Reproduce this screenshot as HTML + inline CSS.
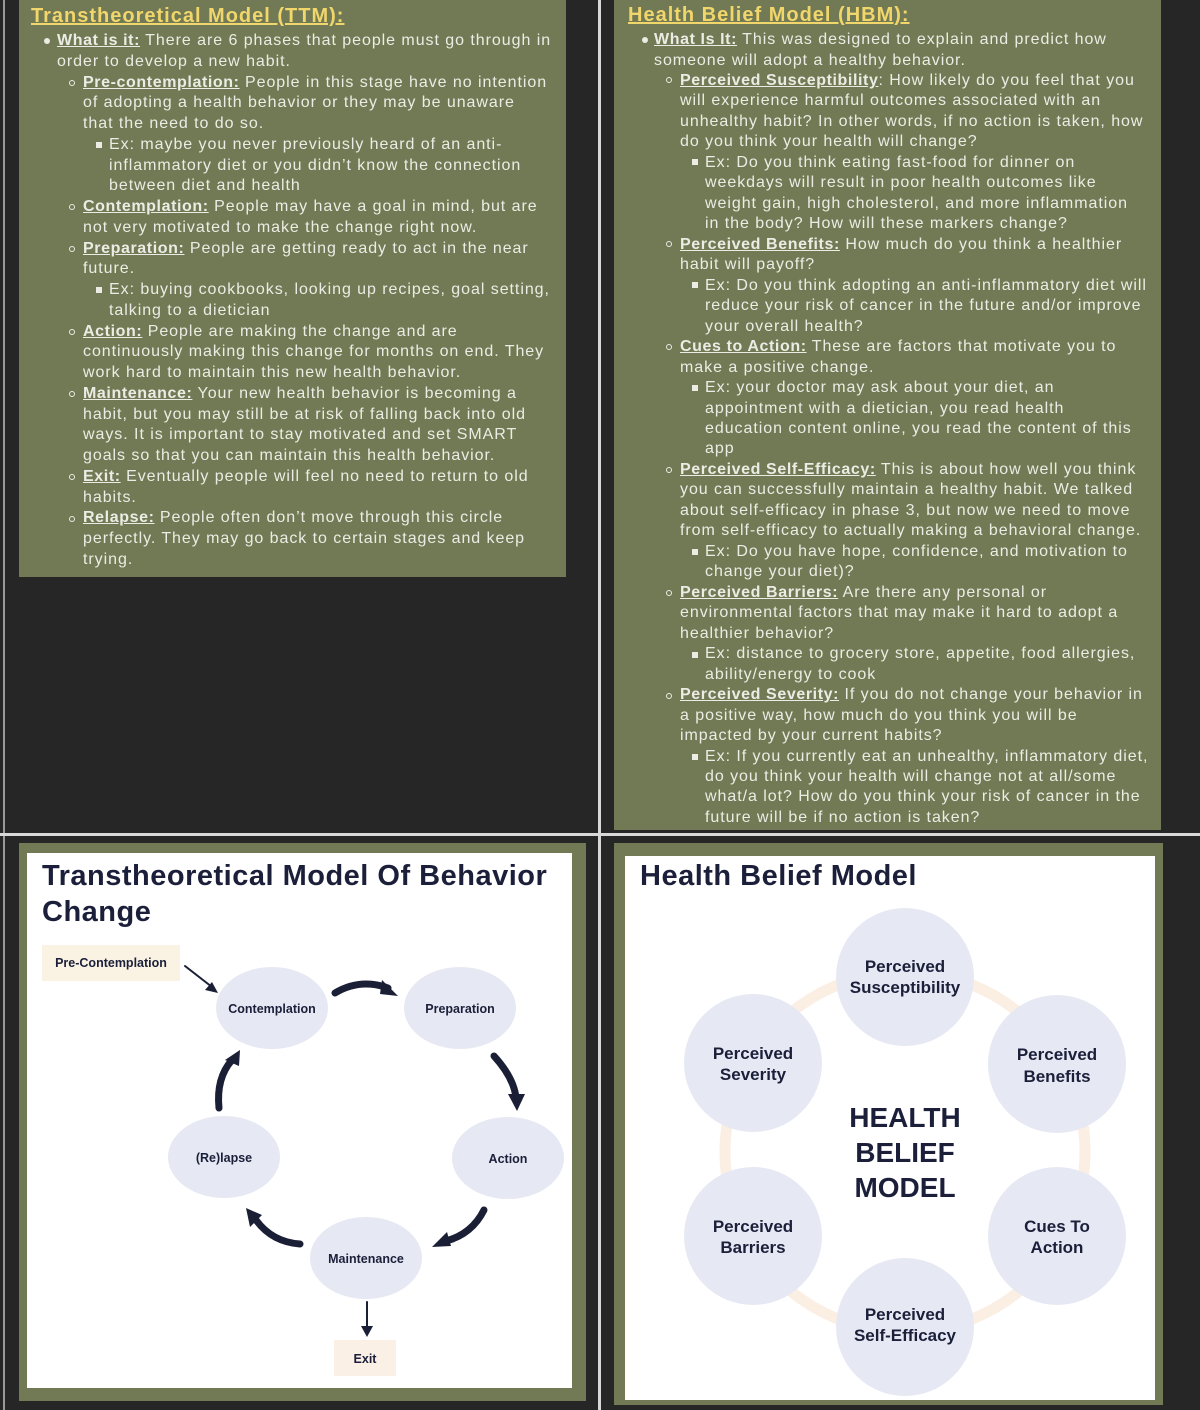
<!DOCTYPE html>
<html><head><meta charset="utf-8">
<style>
*{margin:0;padding:0;box-sizing:border-box}
body{width:1200px;height:1410px;background:#262626;position:relative;overflow:hidden;font-family:"Liberation Sans",sans-serif}
.abs{position:absolute}
.g{position:absolute;background:#717a55}
.l{position:absolute;white-space:nowrap;font-size:16px;line-height:22px;letter-spacing:.95px;color:#ecece4}
.l b{text-decoration:underline;font-weight:bold;letter-spacing:.6px}
.m1,.m2,.m3{position:absolute}
.m1{width:6px;height:6px;border-radius:50%;background:#ecece4}
.m2{width:6px;height:6px;border-radius:50%;border:1px solid #ecece4}
.m3{width:6px;height:6px;background:#ecece4}
.t{position:absolute;white-space:nowrap;font-size:20px;font-weight:bold;color:#f1d66b;text-decoration:underline;letter-spacing:1px}
.dk{color:#1b1f3a;font-weight:bold}
</style></head><body>
<!-- grid lines -->
<div class="abs" style="left:3px;top:0;width:2px;height:1410px;background:#9a9a9a"></div>
<div class="abs" style="left:598px;top:0;width:3px;height:1410px;background:#d8d8d8"></div>
<div class="abs" style="left:0;top:833px;width:1200px;height:3px;background:#d8d8d8"></div>

<!-- TTM text box -->
<div class="g" style="left:19px;top:0;width:547px;height:577px"></div>
<div class="t" style="left:31px;top:5px">Transtheoretical Model (TTM):</div>
<div class="m1" style="left:44px;top:38px"></div>
<div class="l" style="left:57px;top:30px"><b>What is it:</b> There are 6 phases that people must go through in</div>
<div class="l" style="left:57px;top:50.75px">order to develop a new habit.</div>
<div class="m2" style="left:69px;top:80px"></div>
<div class="l" style="left:83px;top:71.5px"><b>Pre-contemplation:</b> People in this stage have no intention</div>
<div class="l" style="left:83px;top:92.25px">of adopting a health behavior or they may be unaware</div>
<div class="l" style="left:83px;top:113px">that the need to do so.</div>
<div class="m3" style="left:96px;top:142px"></div>
<div class="l" style="left:109px;top:133.75px">Ex: maybe you never previously heard of an anti-</div>
<div class="l" style="left:109px;top:154.5px">inflammatory diet or you didn’t know the connection</div>
<div class="l" style="left:109px;top:175.25px">between diet and health</div>
<div class="m2" style="left:69px;top:204px"></div>
<div class="l" style="left:83px;top:196px"><b>Contemplation:</b> People may have a goal in mind, but are</div>
<div class="l" style="left:83px;top:216.75px">not very motivated to make the change right now.</div>
<div class="m2" style="left:69px;top:246px"></div>
<div class="l" style="left:83px;top:237.5px"><b>Preparation:</b> People are getting ready to act in the near</div>
<div class="l" style="left:83px;top:258.25px">future.</div>
<div class="m3" style="left:96px;top:287px"></div>
<div class="l" style="left:109px;top:279px">Ex: buying cookbooks, looking up recipes, goal setting,</div>
<div class="l" style="left:109px;top:299.75px">talking to a dietician</div>
<div class="m2" style="left:69px;top:329px"></div>
<div class="l" style="left:83px;top:320.5px"><b>Action:</b> People are making the change and are</div>
<div class="l" style="left:83px;top:341.25px">continuously making this change for months on end. They</div>
<div class="l" style="left:83px;top:362px">work hard to maintain this new health behavior.</div>
<div class="m2" style="left:69px;top:391px"></div>
<div class="l" style="left:83px;top:382.75px"><b>Maintenance:</b> Your new health behavior is becoming a</div>
<div class="l" style="left:83px;top:403.5px">habit, but you may still be at risk of falling back into old</div>
<div class="l" style="left:83px;top:424.25px">ways. It is important to stay motivated and set SMART</div>
<div class="l" style="left:83px;top:445px">goals so that you can maintain this health behavior.</div>
<div class="m2" style="left:69px;top:474px"></div>
<div class="l" style="left:83px;top:465.75px"><b>Exit:</b> Eventually people will feel no need to return to old</div>
<div class="l" style="left:83px;top:486.5px">habits.</div>
<div class="m2" style="left:69px;top:516px"></div>
<div class="l" style="left:83px;top:507.25px"><b>Relapse:</b> People often don’t move through this circle</div>
<div class="l" style="left:83px;top:528px">perfectly. They may go back to certain stages and keep</div>
<div class="l" style="left:83px;top:548.75px">trying.</div>

<!-- HBM text box -->
<div class="g" style="left:614px;top:0;width:547px;height:830px"></div>
<div class="t" style="left:628px;top:4px">Health Belief Model (HBM):</div>
<div class="m1" style="left:642px;top:37px"></div>
<div class="l" style="left:654px;top:29px"><b>What Is It:</b> This was designed to explain and predict how</div>
<div class="l" style="left:654px;top:49.5px">someone will adopt a healthy behavior.</div>
<div class="m2" style="left:666px;top:77px"></div>
<div class="l" style="left:680px;top:69.9px"><b>Perceived Susceptibility</b>: How likely do you feel that you</div>
<div class="l" style="left:680px;top:90.4px">will experience harmful outcomes associated with an</div>
<div class="l" style="left:680px;top:110.9px">unhealthy habit? In other words, if no action is taken, how</div>
<div class="l" style="left:680px;top:131.4px">do you think your health will change?</div>
<div class="m3" style="left:692px;top:159px"></div>
<div class="l" style="left:705px;top:151.8px">Ex: Do you think eating fast-food for dinner on</div>
<div class="l" style="left:705px;top:172.3px">weekdays will result in poor health outcomes like</div>
<div class="l" style="left:705px;top:192.8px">weight gain, high cholesterol, and more inflammation</div>
<div class="l" style="left:705px;top:213.2px">in the body? How will these markers change?</div>
<div class="m2" style="left:666px;top:241px"></div>
<div class="l" style="left:680px;top:233.7px"><b>Perceived Benefits:</b> How much do you think a healthier</div>
<div class="l" style="left:680px;top:254.2px">habit will payoff?</div>
<div class="m3" style="left:692px;top:282px"></div>
<div class="l" style="left:705px;top:274.6px">Ex: Do you think adopting an anti-inflammatory diet will</div>
<div class="l" style="left:705px;top:295.1px">reduce your risk of cancer in the future and/or improve</div>
<div class="l" style="left:705px;top:315.6px">your overall health?</div>
<div class="m2" style="left:666px;top:344px"></div>
<div class="l" style="left:680px;top:336.1px"><b>Cues to Action:</b> These are factors that motivate you to</div>
<div class="l" style="left:680px;top:356.5px">make a positive change.</div>
<div class="m3" style="left:692px;top:385px"></div>
<div class="l" style="left:705px;top:377px">Ex: your doctor may ask about your diet, an</div>
<div class="l" style="left:705px;top:397.5px">appointment with a dietician, you read health</div>
<div class="l" style="left:705px;top:417.9px">education content online, you read the content of this</div>
<div class="l" style="left:705px;top:438.4px">app</div>
<div class="m2" style="left:666px;top:467px"></div>
<div class="l" style="left:680px;top:458.9px"><b>Perceived Self-Efficacy:</b> This is about how well you think</div>
<div class="l" style="left:680px;top:479.3px">you can successfully maintain a healthy habit. We talked</div>
<div class="l" style="left:680px;top:499.8px">about self-efficacy in phase 3, but now we need to move</div>
<div class="l" style="left:680px;top:520.3px">from self-efficacy to actually making a behavioral change.</div>
<div class="m3" style="left:692px;top:549px"></div>
<div class="l" style="left:705px;top:540.8px">Ex: Do you have hope, confidence, and motivation to</div>
<div class="l" style="left:705px;top:561.2px">change your diet)?</div>
<div class="m2" style="left:666px;top:590px"></div>
<div class="l" style="left:680px;top:581.7px"><b>Perceived Barriers:</b> Are there any personal or</div>
<div class="l" style="left:680px;top:602.2px">environmental factors that may make it hard to adopt a</div>
<div class="l" style="left:680px;top:622.6px">healthier behavior?</div>
<div class="m3" style="left:692px;top:652px"></div>
<div class="l" style="left:705px;top:643.1px">Ex: distance to grocery store, appetite, food allergies,</div>
<div class="l" style="left:705px;top:663.6px">ability/energy to cook</div>
<div class="m2" style="left:666px;top:693px"></div>
<div class="l" style="left:680px;top:684px"><b>Perceived Severity:</b> If you do not change your behavior in</div>
<div class="l" style="left:680px;top:704.5px">a positive way, how much do you think you will be</div>
<div class="l" style="left:680px;top:725px">impacted by your current habits?</div>
<div class="m3" style="left:692px;top:754px"></div>
<div class="l" style="left:705px;top:745.5px">Ex: If you currently eat an unhealthy, inflammatory diet,</div>
<div class="l" style="left:705px;top:765.9px">do you think your health will change not at all/some</div>
<div class="l" style="left:705px;top:786.4px">what/a lot? How do you think your risk of cancer in the</div>
<div class="l" style="left:705px;top:806.9px">future will be if no action is taken?</div>

<!-- Bottom-left TTM diagram -->
<div class="g" style="left:19px;top:843px;width:567px;height:558px"></div>
<div class="abs" style="left:27px;top:853px;width:545px;height:535px;background:#fff"></div>
<div class="abs dk" style="left:42px;top:858px;font-size:29px;line-height:36px;letter-spacing:.5px">Transtheoretical Model Of Behavior<br>Change</div>
<svg class="abs" style="left:0;top:0" width="600" height="1410" viewBox="0 0 600 1410">
<rect x="42" y="945" width="138" height="36" fill="#faf3e3"/>
<rect x="334" y="1340" width="62" height="36" fill="#fbf0e6"/>
<g fill="#e6e9f3">
<ellipse cx="272" cy="1008" rx="56" ry="41"/>
<ellipse cx="460" cy="1008" rx="56" ry="41"/>
<ellipse cx="508" cy="1158" rx="56" ry="41"/>
<ellipse cx="224" cy="1157" rx="56" ry="41"/>
<ellipse cx="366" cy="1258" rx="56" ry="41"/>
</g>
<g font-family="Liberation Sans,sans-serif" font-weight="bold" font-size="12.5" fill="#1b1f3a" text-anchor="middle">
<text x="111" y="967">Pre-Contemplation</text>
<text x="272" y="1013">Contemplation</text>
<text x="460" y="1013">Preparation</text>
<text x="508" y="1163">Action</text>
<text x="224" y="1162">(Re)lapse</text>
<text x="366" y="1263">Maintenance</text>
<text x="365" y="1363">Exit</text>
</g>
<g stroke="#1a1f36" fill="none" stroke-linecap="round">
<line x1="185" y1="966" x2="212" y2="987" stroke-width="2"/>
<line x1="367" y1="1302" x2="367" y2="1328" stroke-width="2"/>
<g stroke-width="7">
<path d="M335 993 Q360 978 388 988"/>
<path d="M494 1056 Q514 1078 516 1098"/>
<path d="M484 1210 Q472 1234 446 1241"/>
<path d="M300 1244 Q272 1242 256 1220"/>
<path d="M219 1108 Q216 1078 232 1060"/>
</g>
</g>
<g fill="#1a1f36">
<polygon points="218,993 205,990 212,982"/>
<polygon points="361,1326 373,1326 367,1337"/>
<polygon points="398,996 382,980 380,994"/>
<polygon points="517,1111 508,1094 525,1094"/>
<polygon points="432,1247 447,1232 451,1246"/>
<polygon points="246,1208 262,1215 250,1227"/>
<polygon points="240,1050 225,1060 239,1066"/>
</g>
</svg>

<!-- Bottom-right HBM diagram -->
<div class="g" style="left:614px;top:843px;width:549px;height:562px"></div>
<div class="abs" style="left:625px;top:856px;width:530px;height:544px;background:#fff"></div>
<div class="abs dk" style="left:640px;top:858px;font-size:29px;line-height:36px;letter-spacing:.5px">Health Belief Model</div>
<svg class="abs" style="left:600px;top:830px" width="600" height="580" viewBox="600 830 600 580">
<circle cx="905" cy="1152" r="180" fill="none" stroke="#fbeee3" stroke-width="11"/>
<g fill="#e6e9f3">
<circle cx="905" cy="977" r="69"/>
<circle cx="753" cy="1063" r="69"/>
<circle cx="1057" cy="1064" r="69"/>
<circle cx="753" cy="1236" r="69"/>
<circle cx="1057" cy="1236" r="69"/>
<circle cx="905" cy="1327" r="69"/>
</g>
<g font-family="Liberation Sans,sans-serif" font-weight="bold" font-size="17" fill="#1b1f3a" text-anchor="middle">
<text x="905" y="972">Perceived</text><text x="905" y="993">Susceptibility</text>
<text x="753" y="1059">Perceived</text><text x="753" y="1080">Severity</text>
<text x="1057" y="1060">Perceived</text><text x="1057" y="1082">Benefits</text>
<text x="753" y="1232">Perceived</text><text x="753" y="1253">Barriers</text>
<text x="1057" y="1232">Cues To</text><text x="1057" y="1253">Action</text>
<text x="905" y="1320">Perceived</text><text x="905" y="1341">Self-Efficacy</text>
<g font-size="28"><text x="905" y="1127">HEALTH</text><text x="905" y="1162">BELIEF</text><text x="905" y="1197">MODEL</text></g>
</g>
</svg>
</body></html>
